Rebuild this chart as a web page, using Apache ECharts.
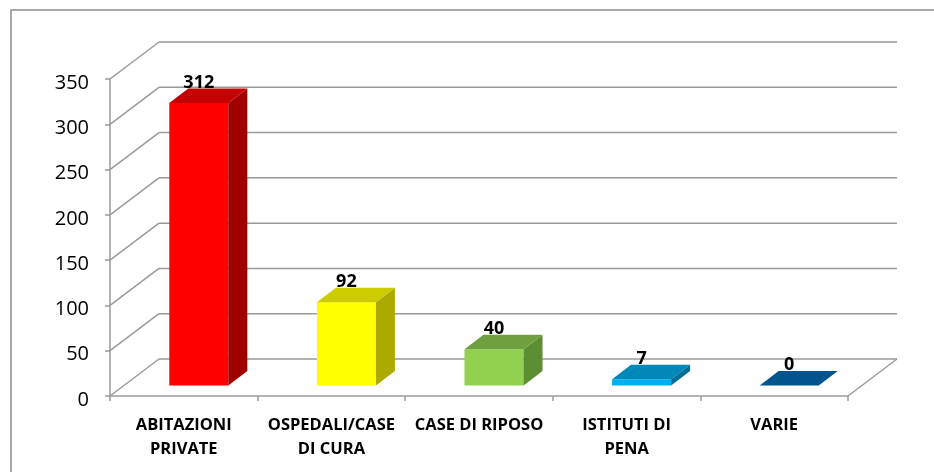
<!DOCTYPE html>
<html>
<head>
<meta charset="utf-8">
<script src="https://cdn.jsdelivr.net/npm/echarts@6/dist/echarts.min.js"></script>
<style>
  html, body { margin: 0; padding: 0; background: #fff; }
  #chart { width: 934px; height: 472px; }
</style>
</head>
<body>
<div id="chart"></div>
<script>
// dati
const categories = ['ABITAZIONI\nPRIVATE', 'OSPEDALI/CASE\nDI CURA', 'CASE DI RIPOSO', 'ISTITUTI DI\nPENA', 'VARIE'];
const values = [312, 92, 40, 7, 0];
const yTicks = [0, 50, 100, 150, 200, 250, 300, 350];

// colori: fronte, lato, sopra
const frontColors = ['#ff0000', '#ffff00', '#92d050', '#00b0f0', '#0060a0'];
const sideColors = ['#a00000', '#aaaa00', '#5e8e34', '#006e96', '#003f6a'];
const topColors = ['#c40000', '#cccc00', '#6fa040', '#0088b8', '#00558f'];

// profondita' della parete di fondo e delle barre
const WALL_DX = 49, WALL_DY = -37;
const BAR_OX = 15, BAR_OY = -10.5;
const BAR_DX = 19, BAR_DY = -14.5;

const GRID_COLOR = '#9a9a9a';
const FONT = 'Open Sans';

const chart = echarts.init(document.getElementById('chart'), null, { renderer: 'canvas' });

function renderWall(params, api) {
    const cs = params.coordSys;
    const left = cs.x, right = cs.x + cs.width;
    const v = api.value(0);
    const y = api.coord([0, v])[1];
    const lineStyle = { stroke: GRID_COLOR, lineWidth: 1.5 };
    const children = [
        { type: 'line', shape: { x1: left, y1: y, x2: left + WALL_DX, y2: y + WALL_DY }, style: lineStyle },
        { type: 'line', shape: { x1: left + WALL_DX, y1: y + WALL_DY, x2: right + WALL_DX, y2: y + WALL_DY }, style: lineStyle }
    ];
    if (v === 0) {
        children.push({ type: 'line', shape: { x1: right + WALL_DX, y1: y + WALL_DY, x2: right, y2: y }, style: lineStyle });
    }
    return { type: 'group', children: children };
}

function renderBar(params, api) {
    const i = api.value(0);
    const v = api.value(1);
    const base = api.coord([i, 0]);
    const top = api.coord([i, v]);
    const w = api.size([1, 0])[0] * 0.4;
    const cx = base[0] + BAR_OX;
    const xl = cx - w / 2, xr = cx + w / 2;
    const yb = base[1] + BAR_OY, yt = top[1] + BAR_OY;
    const idx = params.dataIndex;
    const children = [];
    if (yb - yt > 0.5) {
        children.push({ type: 'rect', shape: { x: xl, y: yt, width: w, height: yb - yt }, style: { fill: frontColors[idx] } });
        children.push({
            type: 'polygon',
            shape: { points: [[xr, yt], [xr + BAR_DX, yt + BAR_DY], [xr + BAR_DX, yb + BAR_DY], [xr, yb]] },
            style: { fill: sideColors[idx] }
        });
    }
    children.push({
        type: 'polygon',
        shape: { points: [[xl, yt], [xr, yt], [xr + BAR_DX, yt + BAR_DY], [xl + BAR_DX, yt + BAR_DY]] },
        style: { fill: topColors[idx] }
    });
    children.push({
        type: 'text',
        style: {
            x: cx, y: yt + BAR_DY + 3,
            text: String(v),
            align: 'center', verticalAlign: 'bottom',
            font: 'bold 18px "' + FONT + '"',
            fill: '#000'
        }
    });
    return { type: 'group', children: children };
}

const option = {
    animation: false,
    graphic: [{
        type: 'rect',
        shape: { x: 11, y: 10, width: 940, height: 480 },
        style: { fill: 'none', stroke: '#8c8c8c', lineWidth: 1.5 },
        silent: true
    }],
    grid: { left: 110, right: 86, top: 79, bottom: 76 },
    xAxis: {
        type: 'category',
        data: categories,
        axisLine: { lineStyle: { color: GRID_COLOR, width: 1.5 } },
        axisTick: { show: true, length: 5, lineStyle: { color: GRID_COLOR, width: 1.5 } },
        axisLabel: {
            interval: 0,
            margin: 17,
            color: '#000',
            fontFamily: FONT,
            fontWeight: 'bold',
            fontSize: 16.5,
            lineHeight: 24
        },
        splitLine: { show: false }
    },
    yAxis: {
        type: 'value',
        min: 0,
        max: 350,
        interval: 50,
        axisLine: { show: true, lineStyle: { color: GRID_COLOR, width: 1.5 } },
        axisTick: { show: true, length: 5, lineStyle: { color: GRID_COLOR, width: 1.5 } },
        axisLabel: {
            margin: 21,
            formatter: '{t|{value}}',
            rich: {
                t: {
                    color: '#000',
                    fontFamily: FONT,
                    fontSize: 20,
                    padding: [8, 0, 0, 0]
                }
            }
        },
        splitLine: { show: false }
    },
    series: [
        {
            type: 'custom',
            name: 'parete',
            renderItem: renderWall,
            data: yTicks.map(t => [t]),
            encode: { y: 0 },
            silent: true,
            z: 1
        },
        {
            type: 'custom',
            name: 'valori',
            renderItem: renderBar,
            data: values.map((v, i) => [i, v]),
            encode: { x: 0, y: 1 },
            z: 5
        }
    ]
};

chart.setOption(option);
</script>
</body>
</html>
